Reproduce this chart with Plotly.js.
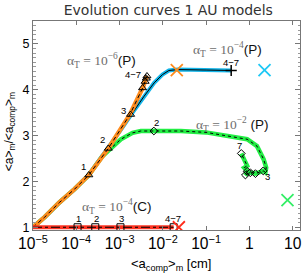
<!DOCTYPE html>
<html><head><meta charset="utf-8">
<script src="https://cdn.plot.ly/plotly-3.0.1.min.js"></script>
<style>html,body{margin:0;padding:0;background:#fff}#plot{width:306px;height:275px}</style>
</head><body><div id="plot"></div>
<script>
// alpha_T = 1e-6 (P) : orange
const orangeX = [1e-5, 1.86e-5, 4.07e-5, 9.1e-5, 1.95e-4, 5.5e-4, 1.74e-3, 2.8e-3, 3.5e-3, 4.3e-3];
const orangeY = [1.0, 1.22, 1.54, 1.83, 2.14, 2.72, 3.46, 3.85, 4.06, 4.30];
const triX = [1.95e-4, 5.5e-4, 1.8e-3, 3.4e-3, 3.9e-3, 4.15e-3, 4.3e-3];
const triY = [2.14, 2.72, 3.46, 4.04, 4.18, 4.25, 4.30];
const triLabels = ["1", "2", "3", "4\u22127"];

// alpha_T = 1e-4 (P) : blue
const blueX = [1e-5, 1.86e-5, 4.07e-5, 9.1e-5, 1.95e-4, 5.5e-4, 1.12e-3, 2.0e-3, 3.7e-3, 6.3e-3, 9.8e-3, 1.38e-2, 2.2e-2, 0.1, 0.38];
const blueY = [1.0, 1.22, 1.54, 1.83, 2.14, 2.72, 3.15, 3.50, 3.86, 4.15, 4.33, 4.42, 4.44, 4.43, 4.42];
const blueEndX = [0.38];
const blueEndY = [4.42];

// alpha_T = 1e-2 (P) : green
const greenX = [1e-5, 1.86e-5, 4.07e-5, 9.1e-5, 1.95e-4, 4.0e-4, 5.4e-4, 1.07e-3, 2.0e-3, 3.1e-3, 6.2e-3, 2.6e-2, 0.1, 0.21, 0.63, 0.89, 1.5, 2.14, 2.45, 2.35, 2.09, 1.38, 1.15, 0.95, 0.81, 0.89, 0.76, 0.89, 0.65];
const greenY = [1.0, 1.22, 1.54, 1.83, 2.14, 2.55, 2.66, 2.92, 3.06, 3.10, 3.10, 3.10, 3.07, 3.02, 2.95, 2.92, 2.77, 2.48, 2.30, 2.20, 2.23, 2.17, 2.19, 2.19, 2.14, 2.23, 2.30, 2.34, 2.61];
const diaX = [6.2e-3, 2.09, 1.38, 1.05, 0.81, 0.89, 0.65];
const diaY = [3.10, 2.23, 2.17, 2.19, 2.14, 2.22, 2.61];

// alpha_T = 1e-4 (C) : red
const redX = [1e-5, 1.07e-4, 2.75e-4, 1.05e-3, 1.78e-2];
const redY = [1.0, 1.0, 1.0, 1.0, 1.0];
const sqX = [1.07e-4, 2.75e-4, 1.05e-3, 1.78e-2];
const sqY = [1.0, 1.0, 1.0, 1.0];
const sqLabels = ["1", "2", "3", "4\u22127"];

// final-size crosses
const crossX = [0.021, 2.24, 7.6, 0.0235];
const crossY = [4.43, 4.43, 1.59, 1.0];
const crossColors = ["#ff8c1e", "#1ec8f5", "#33ee66", "#ff2a1a"];

const ORANGE = "#ff8c1e", BLUE = "#12b4e8", GREEN = "#22ee44", RED = "#ff3322";

const traces = [
  {x: greenX, y: greenY, mode: "lines", line: {color: GREEN, width: 4.5}, hoverinfo: "skip"},
  {x: greenX, y: greenY, mode: "lines", line: {color: "#000", width: 1, dash: "dot"}, hoverinfo: "skip"},
  {x: blueX, y: blueY, mode: "lines", line: {color: BLUE, width: 4}, hoverinfo: "skip"},
  {x: blueX, y: blueY, mode: "lines", line: {color: "#000", width: 1}, hoverinfo: "skip"},
  {x: orangeX, y: orangeY, mode: "lines", line: {color: ORANGE, width: 4.5}, hoverinfo: "skip"},
  {x: orangeX, y: orangeY, mode: "lines", line: {color: "#000", width: 1, dash: "4px,3px"}, hoverinfo: "skip"},
  {x: redX, y: redY, mode: "lines", line: {color: RED, width: 4}, hoverinfo: "skip"},
  {x: redX, y: redY, mode: "lines", line: {color: "#000", width: 1, dash: "dashdot"}, hoverinfo: "skip"},
  {x: triX, y: triY, mode: "markers", marker: {symbol: "triangle-up-open", size: 7, color: "#000", line: {width: 1}}},
  {x: diaX, y: diaY, mode: "markers", marker: {symbol: "diamond-open", size: 6, color: "#000", line: {width: 1}}},
  {x: sqX, y: sqY, mode: "markers", marker: {symbol: "square-open", size: 7, color: "#000", line: {width: 1}}},
  {x: blueEndX, y: blueEndY, mode: "markers", marker: {symbol: "cross-thin-open", size: 8, color: "#000", line: {width: 1.5, color: "#000"}}},
  {x: crossX, y: crossY, mode: "markers", marker: {symbol: "x-thin-open", size: 12, color: crossColors, line: {width: 1.8, color: crossColors}}}
];

const L = v => Math.log10(v);
const small = {family: "Liberation Sans, Arial, sans-serif", size: 9.5, color: "#000"};
const annotations = [];
// triangle labels
[[0, -5, 9], [1, -6, 9], [2, -7, 4], [3, -10, 13]].forEach(([i, dx, dy], k) => {
  annotations.push({x: L(triX[i]), y: triY[i], text: triLabels[k], showarrow: false, font: small, xshift: dx, yshift: dy});
});
// blue end label
annotations.push({x: L(blueEndX[0]), y: blueEndY[0], text: "4\u22127", showarrow: false, font: small, xshift: 0, yshift: 8});
// green labels
annotations.push({x: L(diaX[0]), y: diaY[0], text: "2", showarrow: false, font: small, xshift: 3, yshift: 9});
annotations.push({x: L(diaX[1]), y: diaY[1], text: "3", showarrow: false, font: small, xshift: 4, yshift: -6});
annotations.push({x: L(diaX[6]), y: diaY[6], text: "7", showarrow: false, font: small, xshift: -2, yshift: 8});
// square labels
sqX.forEach((xv, i) => {
  annotations.push({x: L(xv), y: sqY[i], text: sqLabels[i], showarrow: false, font: small, xshift: i === 3 ? -1 : 1, yshift: 9});
});
// alpha labels
const alab = (p, tail) => '<span style="font-family:Liberation Serif, serif;fill:#6e6e6e">\u03b1<sub>T</sub> = 10<sup>\u2212' + p + '</sup></span>' + tail;
const big = {family: "Liberation Sans, Arial, sans-serif", size: 13.5, color: "#111"};
annotations.push({x: -3.42, y: 4.64, text: alab(6, "(P)"), showarrow: false, font: big});
annotations.push({x: -0.5, y: 4.88, text: alab(4, "(P)"), showarrow: false, font: big});
annotations.push({x: -0.38, y: 3.25, text: alab(2, " (P)"), showarrow: false, font: big});
annotations.push({x: -3.05, y: 1.45, text: alab(4, "(C)"), showarrow: false, font: big});
// axis titles
annotations.push({xref: "paper", yref: "paper", x: 0.515, y: -0.165, xanchor: "center", yanchor: "middle", text: "&lt;a<sub>comp</sub>&gt;<sub>m</sub> [cm]", showarrow: false, font: {family: "Liberation Sans, Arial, sans-serif", size: 13, color: "#000"}});
annotations.push({xref: "paper", yref: "paper", x: -0.088, y: 0.47, xanchor: "center", yanchor: "middle", textangle: -90, text: "&lt;a&gt;<sub>m</sub>/&lt;a<sub>comp</sub>&gt;<sub>m</sub>", showarrow: false, font: {family: "Liberation Sans, Arial, sans-serif", size: 12, color: "#000"}});

const layout = {
  width: 306, height: 275,
  margin: {l: 33, r: 6, t: 21, b: 45, pad: 0},
  paper_bgcolor: "#fff", plot_bgcolor: "#fff",
  showlegend: false,
  title: {text: "Evolution curves 1 AU models", font: {family: "DejaVu Sans, sans-serif", size: 14, color: "#333"}, x: 0.55, xanchor: "center", y: 0.963, yanchor: "middle", yref: "container"},
  xaxis: {type: "log", range: [-5, 1.17], dtick: 1, exponentformat: "power", showgrid: false, zeroline: false,
    showline: true, linecolor: "#777", linewidth: 1, mirror: "ticks", ticks: "inside", ticklen: 4, tickcolor: "#777",
    tickfont: {family: "Liberation Sans, Arial, sans-serif", size: 12.5, color: "#000"}},
  yaxis: {range: [0.94, 5.5], dtick: 1, showgrid: false, zeroline: false,
    showline: true, linecolor: "#777", linewidth: 1, mirror: "ticks", ticks: "inside", ticklen: 5, tickcolor: "#777",
    minor: {dtick: 0.1, ticks: "inside", ticklen: 2.5, tickcolor: "#999", showgrid: false},
    tickfont: {family: "Liberation Sans, Arial, sans-serif", size: 12.5, color: "#000"}},
  annotations: annotations
};
Plotly.newPlot("plot", traces, layout, {staticPlot: true});
</script></body></html>
